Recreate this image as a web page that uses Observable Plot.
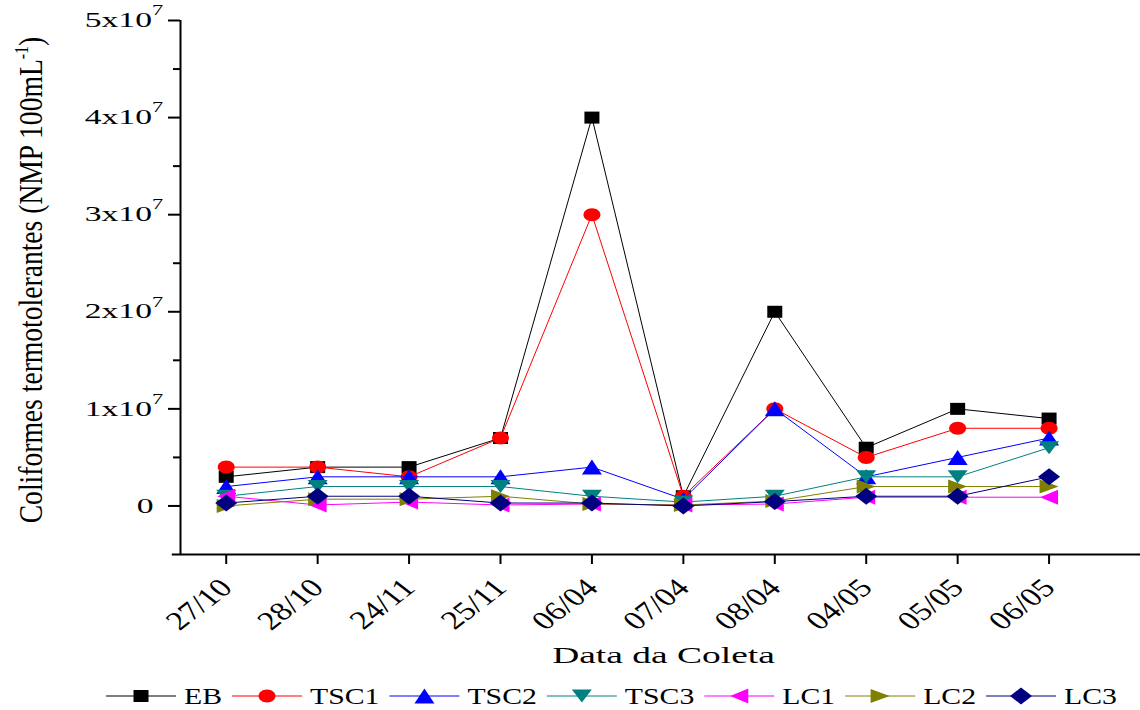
<!DOCTYPE html>
<html>
<head>
<meta charset="utf-8">
<script src="https://cdn.jsdelivr.net/npm/d3@7"></script>
<script src="https://cdn.jsdelivr.net/npm/@observablehq/plot@0.6"></script>
<style>
  html, body { margin: 0; padding: 0; background: #fff; }
  svg { display: block; }
</style>
</head>
<body>
<div id="chart"></div>
<script>
// ---- data ----
const dates = ["27/10","28/10","24/11","25/11","06/04","07/04","08/04","04/05","05/05","06/05"];
const EB   = [3e6, 4e6, 4e6, 7e6, 4e7, 1e6, 2e7, 6e6, 1e7, 9e6];
const TSC1 = [4e6, 4e6, 3e6, 7e6, 3e7, 1e6, 1e7, 5e6, 8e6, 8e6];
const TSC2 = [2e6, 3e6, 3e6, 3e6, 4e6, 0.7e6, 1e7, 3e6, 5e6, 7e6];
const TSC3 = [1e6, 2e6, 2e6, 2e6, 1e6, 0.4e6, 1e6, 3e6, 3e6, 6e6];
const LC1  = [1e6, 0.1e6, 0.4e6, 0.1e6, 0.2e6, 0.1e6, 0.2e6, 0.9e6, 0.9e6, 0.9e6];
const LC2  = [0, 0.7e6, 0.7e6, 1e6, 0.2e6, 0.1e6, 0.5e6, 2e6, 2e6, 2e6];
const LC3  = [0.3e6, 1e6, 1e6, 0.3e6, 0.3e6, 0, 0.45e6, 1e6, 1e6, 3e6];
const seriesNames  = ["EB","TSC1","TSC2","TSC3","LC1","LC2","LC3"];
const seriesValues = [EB, TSC1, TSC2, TSC3, LC1, LC2, LC3];
const seriesColors = ["#000000","#ff0000","#0000ff","#008080","#ff00ff","#808000","#000080"];
const yTicks      = [0, 1e7, 2e7, 3e7, 4e7, 5e7];
const yMinorTicks = [5e6, 1.5e7, 2.5e7, 3.5e7, 4.5e7];
const xTitle = "Data da Coleta";
const yTitle = "Coliformes termotolerantes (NMP 100mL";

// ---- symbols (slightly wide, as in the reference) ----
function poly(pts) {
  return { draw(ctx) { ctx.moveTo(pts[0][0], pts[0][1]); for (let k = 1; k < pts.length; k++) ctx.lineTo(pts[k][0], pts[k][1]); ctx.closePath(); } };
}
const ellipse = { draw(ctx) {
  const rx = 8.5, ry = 6.5, k = 0.5523;
  ctx.moveTo(rx, 0);
  ctx.bezierCurveTo(rx, ry * k, rx * k, ry, 0, ry);
  ctx.bezierCurveTo(-rx * k, ry, -rx, ry * k, -rx, 0);
  ctx.bezierCurveTo(-rx, -ry * k, -rx * k, -ry, 0, -ry);
  ctx.bezierCurveTo(rx * k, -ry, rx, -ry * k, rx, 0);
  ctx.closePath();
} };
const symbols = [
  poly([[-7.5,-6],[7.5,-6],[7.5,6],[-7.5,6]]),
  ellipse,
  poly([[0,-7.5],[10,7.5],[-10,7.5]]),
  poly([[-10,-6.5],[10,-6.5],[0,6.5]]),
  poly([[-9,0],[9,-7.5],[9,7.5]]),
  poly([[9.5,0],[-9.5,-7],[-9.5,7]]),
  poly([[0,-8.5],[11,0],[0,8.5],[-11,0]])
];

const rows = [];
seriesNames.forEach((name, s) => seriesValues[s].forEach((v, i) => rows.push({series: name, i, v})));

const seriesMarks = [];
seriesNames.forEach((name, s) => {
  const d = rows.filter(r => r.series === name);
  seriesMarks.push(Plot.line(d, {x: "i", y: "v", stroke: seriesColors[s], strokeWidth: 1}));
  seriesMarks.push(Plot.dot(d, {x: "i", y: "v", symbol: symbols[s], fill: seriesColors[s], r: 6}));
});

const svg = Plot.plot({
  width: 1140, height: 680,
  marginLeft: 180, marginRight: 0, marginTop: 20, marginBottom: 126,
  style: {fontFamily: "'Liberation Serif', 'Times New Roman', serif", color: "black", background: "white", overflow: "visible"},
  x: {type: "linear", domain: [-0.5, 10]},
  y: {type: "linear", domain: [-5e6, 5e7]},
  marks: [
    Plot.ruleX([-0.5], {y1: -5e6, y2: 5e7, strokeWidth: 2}),
    Plot.ruleY([-5e6], {x1: -0.59, x2: 10, strokeWidth: 2}),
    Plot.axisY({ticks: yTicks, tickSize: 12, tickPadding: 15, strokeWidth: 2, fontSize: 21, label: null,
      tickFormat: d => d === 0 ? "0" : `${d / 1e7}x10^7`}),
    Plot.axisY({ticks: yMinorTicks, tickSize: 7, strokeWidth: 2, label: null, tickFormat: () => ""}),
    Plot.axisX({ticks: d3.range(dates.length), tickSize: 10, tickPadding: 19, tickRotate: -45, strokeWidth: 2,
      fontSize: 26, label: null, tickFormat: i => dates[i]}),
    ...seriesMarks
  ]
});

const NS = "http://www.w3.org/2000/svg";
function stretch(el, sx) {
  const t = el.getAttribute("transform") || "";
  const m = t.match(/translate\([^)]*\)/);
  if (m) el.setAttribute("transform", t.replace(m[0], m[0] + ` scale(${sx},1)`));
  else {
    const x = +el.getAttribute("x") || 0, y = +el.getAttribute("y") || 0;
    el.removeAttribute("x"); el.removeAttribute("y");
    el.setAttribute("transform", `translate(${x},${y}) scale(${sx},1) ${t}`);
  }
}

// y tick labels with superscripts
svg.querySelectorAll('g[aria-label="y-axis tick label"] text').forEach(el => {
  const s = el.textContent;
  const m = s.match(/^(.*)\^(.*)$/);
  if (m) {
    el.textContent = m[1];
    const sup = document.createElementNS(NS, "tspan");
    sup.setAttribute("dy", "-12");
    sup.setAttribute("font-size", "14");
    sup.textContent = m[2];
    el.appendChild(sup);
    el.setAttribute("dx", "6");
  }
  if (s) stretch(el, 1.6);
});
svg.querySelectorAll('g[aria-label="x-axis tick label"] text').forEach(el => stretch(el, 1.3));

const root = d3.select(svg);
// y title
const yt = root.append("text")
  .attr("transform", "translate(42,280) scale(1.23,1) rotate(-90)")
  .attr("text-anchor", "middle")
  .attr("font-size", 27.6)
  .attr("fill", "black");
yt.append("tspan").text(yTitle);
yt.append("tspan").attr("dy", -11).attr("font-size", 16).text("-1");
yt.append("tspan").attr("dy", 11).attr("font-size", 27.6).text(")");
// x title
root.append("text")
  .attr("transform", "translate(663.5,663) scale(1.63,1)")
  .attr("text-anchor", "middle")
  .attr("font-size", 23)
  .attr("fill", "black")
  .text(xTitle);

document.getElementById("chart").appendChild(svg);

// legend below the chart
const leg = d3.select("#chart").append("svg")
  .attr("width", 1140).attr("height", 30)
  .style("font-family", "'Liberation Serif', 'Times New Roman', serif");
let x = 106;
seriesNames.forEach((name, s) => {
  leg.append("line").attr("x1", x).attr("x2", x + 70).attr("y1", 16).attr("y2", 16)
    .attr("stroke", seriesColors[s]).attr("stroke-width", 1);
  leg.append("path").attr("d", d3.symbol(symbols[s])()).attr("transform", `translate(${x + 35},16)`)
    .attr("fill", seriesColors[s]);
  const t = leg.append("text").attr("font-size", 24).attr("fill", "black")
    .attr("transform", `translate(${x + 78},24) scale(1.24,1)`).text(name);
  const w = t.node().getComputedTextLength() * 1.24;
  x = x + 78 + w + 10;
});
</script>
</body>
</html>
